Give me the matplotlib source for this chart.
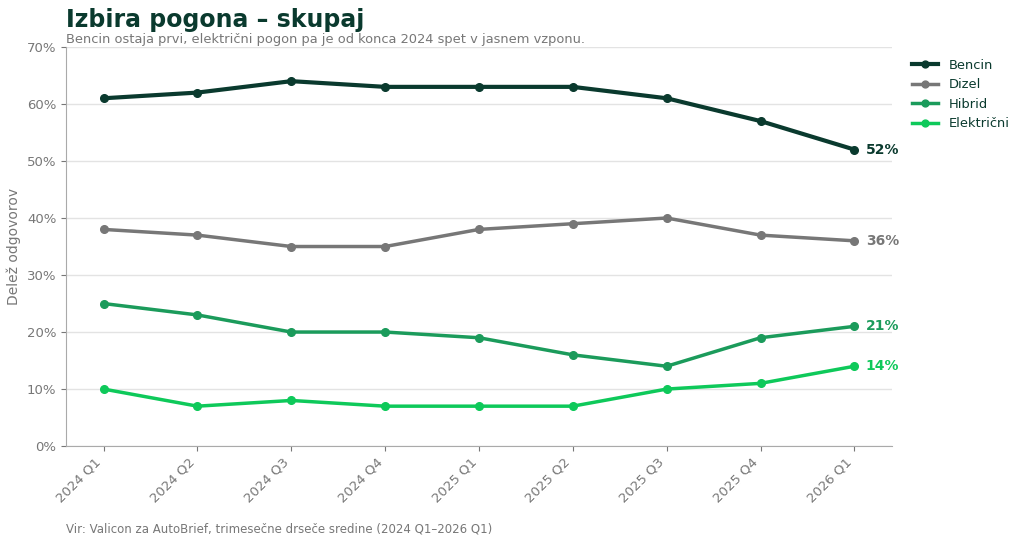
import matplotlib
matplotlib.use("Agg")
import matplotlib.pyplot as plt
from matplotlib.ticker import FuncFormatter

plt.rcParams["font.family"] = ["DejaVu Sans"]

quarters = ["2024 Q1", "2024 Q2", "2024 Q3", "2024 Q4", "2025 Q1", "2025 Q2", "2025 Q3", "2025 Q4", "2026 Q1"]
bencin = [61, 62, 64, 63, 63, 63, 61, 57, 52]
dizel = [38, 37, 35, 35, 38, 39, 40, 37, 36]
hibrid = [25, 23, 20, 20, 19, 16, 14, 19, 21]
elektricni = [10, 7, 8, 7, 7, 7, 10, 11, 14]

series = [
    ("Bencin", bencin, "#0a3a2e", 3.0),
    ("Dizel", dizel, "#777777", 2.5),
    ("Hibrid", hibrid, "#1b9b5b", 2.5),
    ("Električni", elektricni, "#0ec95a", 2.5),
]

fig = plt.figure(figsize=(10.24, 5.46), dpi=100)
ax = fig.add_axes([0.0645, 0.183, 0.8065, 0.731])

x = list(range(len(quarters)))
for name, vals, col, lw in series:
    ax.plot(x, vals, color=col, lw=lw, marker="o", markersize=5.5, label=name, zorder=3)
    ax.text(x[-1] + 0.12, vals[-1], f"{vals[-1]}%", color=col, fontsize=10,
            fontweight="bold", va="center", ha="left")

ax.set_xlim(-0.4, 8.4)
ax.set_ylim(0, 70)
ax.set_yticks(range(0, 71, 10))
ax.yaxis.set_major_formatter(FuncFormatter(lambda v, p: f"{int(v)}%"))
ax.set_xticks(x)
ax.set_xticklabels(quarters, rotation=45, ha="right")
ax.tick_params(colors="#777777", labelsize=9.5)
ax.grid(axis="y", color="#e3e3e3", lw=1)
ax.set_axisbelow(True)
for s in ["top", "right"]:
    ax.spines[s].set_visible(False)
for s in ["left", "bottom"]:
    ax.spines[s].set_color("#aaaaaa")
ax.set_ylabel("Delež odgovorov", color="#777777", fontsize=10, labelpad=4)

leg = ax.legend(loc="upper left", bbox_to_anchor=(1.01, 1.0), frameon=False, fontsize=9.4,
                handlelength=2.0, markerscale=0.9)
for t in leg.get_texts():
    t.set_color("#0a3a2e")

fig.text(0.0645, 0.963, "Izbira pogona – skupaj", fontsize=17, fontweight="bold",
         color="#0a3a2e", va="center", ha="left")
fig.text(0.0645, 0.927, "Bencin ostaja prvi, električni pogon pa je od konca 2024 spet v jasnem vzponu.",
         fontsize=9.4, color="#777777", va="center", ha="left")
fig.text(0.0645, 0.031, "Vir: Valicon za AutoBrief, trimesečne drseče sredine (2024 Q1–2026 Q1)",
         fontsize=8.5, color="#777777", va="center", ha="left")

fig.savefig("out.png", dpi=100)
